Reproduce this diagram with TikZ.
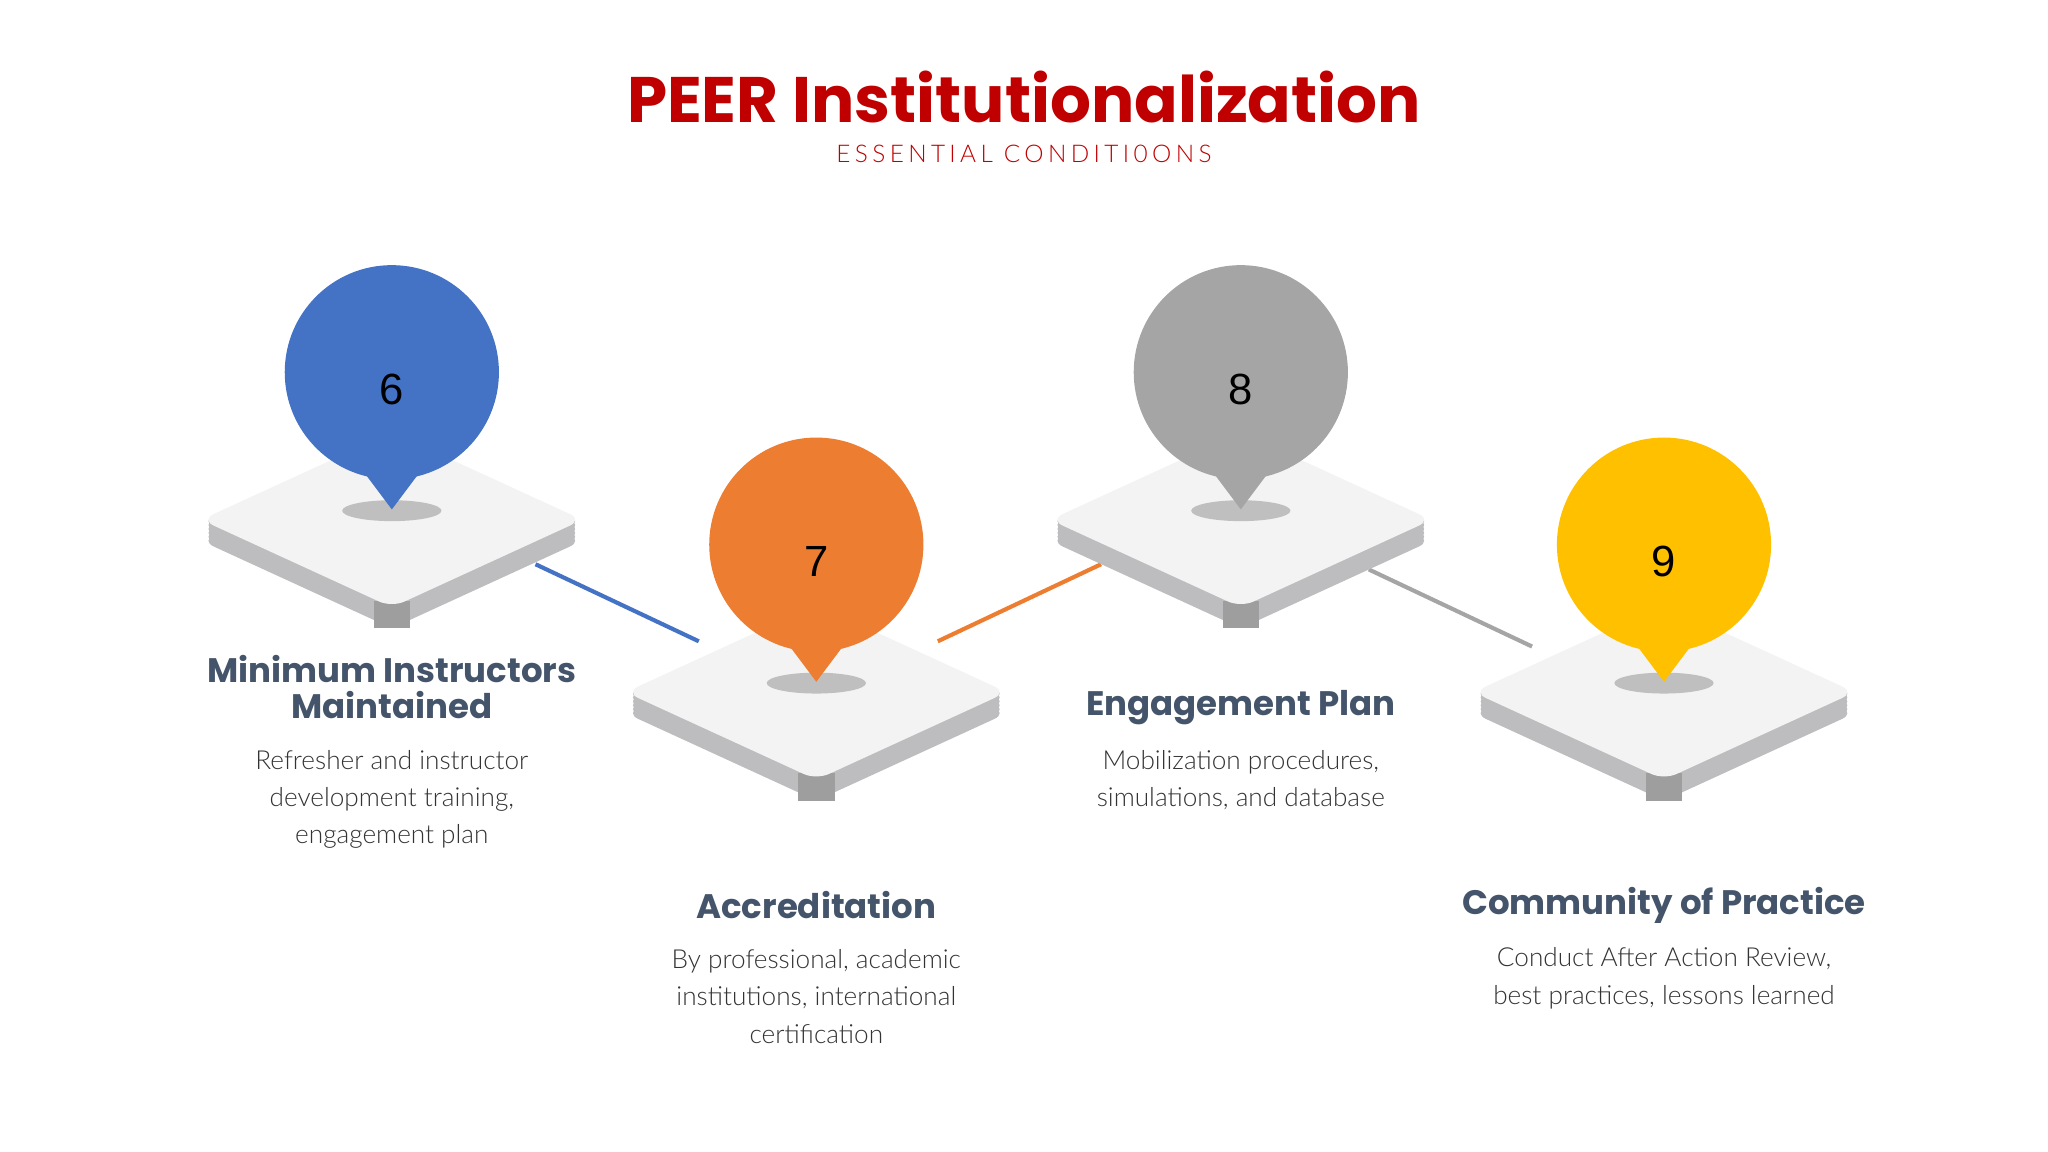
\documentclass[tikz,border=0pt]{standalone}
\usepackage{fontspec}
\setmainfont{Lato Light}
\newfontfamily\pop{Poppins}
\newfontfamily\lib{Liberation Sans}
\definecolor{cblue}{HTML}{4472C4}
\definecolor{corange}{HTML}{ED7D31}
\definecolor{cgray}{HTML}{A5A5A5}
\definecolor{cyellow}{HTML}{FFC000}
\definecolor{cred}{HTML}{C00000}
\definecolor{chead}{HTML}{44546A}
\definecolor{ctop}{HTML}{F3F3F4}
\definecolor{cside}{HTML}{BDBCBE}
\begin{document}
\begin{tikzpicture}[x=0.01cm,y=-0.01cm,
  head/.style={font=\pop\bfseries\fontsize{7.4}{9}\selectfont,text=chead,align=center},
  body/.style={font=\fontsize{5.7}{8.1}\selectfont,text=black!80,align=center},
  num/.style={font=\lib\fontsize{9.5}{11}\selectfont},
  link/.style={line width=0.9pt}]
\useasboundingbox (0,0) rectangle (1568,882);
\node[font=\pop\bfseries\fontsize{14}{16}\selectfont,text=cred] (title) at (784,74) {PEER Institutionalization};
\node[font=\fontsize{5.3}{7}\selectfont,text=cred] (sub) at (784,118) {\addfontfeature{LetterSpace=18}ESSENTIAL CONDITI0ONS};
% connectors
\coordinate (b1) at (410,432); \coordinate (b2) at (535,491);
\coordinate (o1) at (718,491); \coordinate (o2) at (843,432);
\coordinate (g1) at (1048,436); \coordinate (g2) at (1173,495);
\draw[link,cblue] (b1)--(b2);
\draw[link,corange] (o1)--(o2);
\draw[link,cgray] (g1)--(g2);
\foreach \x/\y/\c/\n/\nm in {300/398/cblue/6/p1,625/530/corange/7/p2,950/398/cgray/8/p3,1274/530/cyellow/9/p4}{
  \begin{scope}[shift={(\x,\y)}]
   \foreach \d in {16,13,10,7,4,1}{
     \fill[cside,rounded corners=3] (-146,\d)--(0,-67+\d)--(146,\d)--(0,67+\d)--cycle;}
   \fill[black!38] (-14,62) rectangle (14,83);
   \fill[ctop,rounded corners=3] (-146,0)--(0,-67)--(146,0)--(0,67)--cycle;
   \fill[black!25] (0,-7) ellipse (38 and 8);
   \fill[\c] (0,-113) circle (82);
   \fill[\c] (-24,-40)--(0,-8)--(24,-40)--cycle;
   \node[num] (\nm) at (0,-100) {\n};
  \end{scope}}
\node[head] (h1) at (300,526) {Minimum Instructors\\[-1pt]Maintained};
\node[body] (t1) at (300,612) {Refresher and instructor\\development training,\\engagement plan};
\node[head] (h2) at (625,693) {Accreditation};
\node[body] (t2) at (625,763) {By professional, academic\\institutions, international\\certification};
\node[head] (h3) at (950,542) {Engagement Plan};
\node[body] (t3) at (950,597) {Mobilization procedures,\\simulations, and database};
\node[head] (h4) at (1274,693) {Community of Practice};
\node[body] (t4) at (1274,749) {Conduct After Action Review,\\best practices, lessons learned};
\end{tikzpicture}
\end{document}
